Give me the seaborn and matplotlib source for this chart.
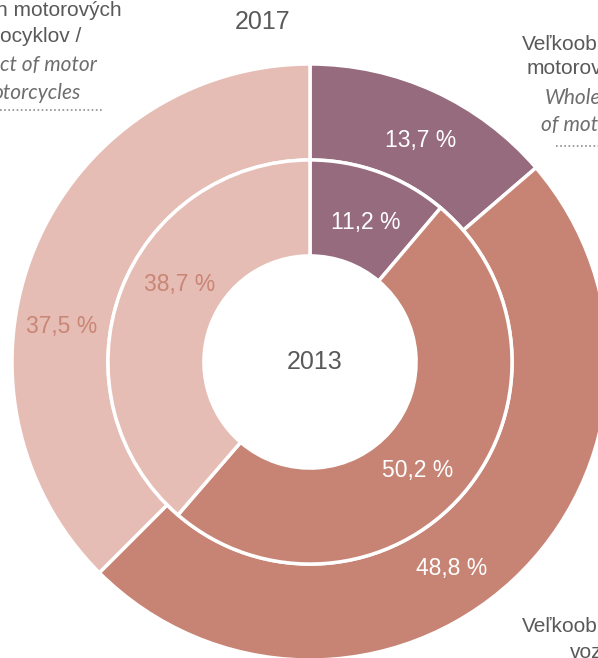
import matplotlib
matplotlib.use("Agg")
import matplotlib.pyplot as plt
import seaborn as sns

sns.set_theme(style="white")
plt.rcParams['font.family'] = ['Liberation Sans', 'DejaVu Sans']

# ----------------------------
# Data
# ----------------------------
segments = ["Veľkoobchod s motorovými", "Veľkoobchod vozidlami", "Predaj motorových"]
share_2017 = [13.7, 48.8, 37.5]   # outer ring
share_2013 = [11.2, 50.2, 38.7]   # inner ring
labels_2017 = ["13,7 %", "48,8 %", "37,5 %"]
labels_2013 = ["11,2 %", "50,2 %", "38,7 %"]

colors = sns.color_palette(["#966B7D", "#C78474", "#E6BDB4"])
label_colors = ["white", "white", "#C98576"]

# label anchor points in pixels of the reference (layout only)
pos_2017 = [(421, 140), (452, 569), (62, 326)]
pos_2013 = [(366, 222), (418, 471), (180, 285)]

W, H = 598, 658
CX, CY, R = 310, 362, 298

fig = plt.figure(figsize=(W / 100, H / 100), dpi=100)
ax = fig.add_axes([(CX - R) / W, (H - CY - R) / H, 2 * R / W, 2 * R / H])

wp = dict(edgecolor="white", linewidth=2.5)
ax.pie(share_2017, radius=1.0, colors=colors, startangle=90, counterclock=False,
       wedgeprops=dict(width=0.322, **wp))
ax.pie(share_2013, radius=0.678, colors=colors, startangle=90, counterclock=False,
       wedgeprops=dict(width=0.322, **wp))
ax.set_xlim(-1, 1)
ax.set_ylim(-1, 1)
ax.set_aspect("equal")
ax.axis("off")


def to_data(px, py):
    return (px - CX) / R, (CY - py) / R


for lab, (px, py), c in zip(labels_2017, pos_2017, label_colors):
    ax.text(*to_data(px, py), lab, ha="center", va="center", fontsize=16.5, color=c)
for lab, (px, py), c in zip(labels_2013, pos_2013, label_colors):
    ax.text(*to_data(px, py), lab, ha="center", va="center", fontsize=16.5, color=c)

ax.text(*to_data(315, 362), "2013", ha="center", va="center", fontsize=18, color="#595959")

# ----------------------------
# Titles and cropped category captions
# ----------------------------
dark = "#595959"
grey = "#6E6E6E"


def ftext(px, py, s, **kw):
    fig.text(px / W, 1 - py / H, s, va="center", **kw)


ftext(263, 22, "2017", ha="center", fontsize=18, color=dark)

# top-left caption
ftext(122, 10, "n motorových", ha="right", fontsize=15, color=dark)
ftext(81, 36, "ocyklov /", ha="right", fontsize=15, color=dark)
ftext(97, 65, "ct of motor", ha="right", fontsize=15, color=grey, style="italic", family="Lato")
ftext(81, 93, "otorcycles", ha="right", fontsize=15, color=grey, style="italic", family="Lato")
fig.add_artist(plt.Line2D([0, 103 / W], [1 - 110 / H] * 2, color="#8C8C8C", lw=1.2,
                          linestyle=(0, (1, 1.5))))

# top-right caption
ftext(522, 45, "Veľkoob", ha="left", fontsize=15, color=dark)
ftext(527, 68, "motorov", ha="left", fontsize=15, color=dark)
ftext(545, 98, "Whole", ha="left", fontsize=15, color=grey, style="italic", family="Lato")
ftext(541, 125, "of mot", ha="left", fontsize=15, color=grey, style="italic", family="Lato")
fig.add_artist(plt.Line2D([556 / W, 1], [1 - 146 / H] * 2, color="#8C8C8C", lw=1.2,
                          linestyle=(0, (1, 1.5))))

# bottom-right caption
ftext(522, 627, "Veľkoob", ha="left", fontsize=15, color=dark)
ftext(570, 652, "voz", ha="left", fontsize=15, color=dark)

fig.savefig("out.png", dpi=100)
